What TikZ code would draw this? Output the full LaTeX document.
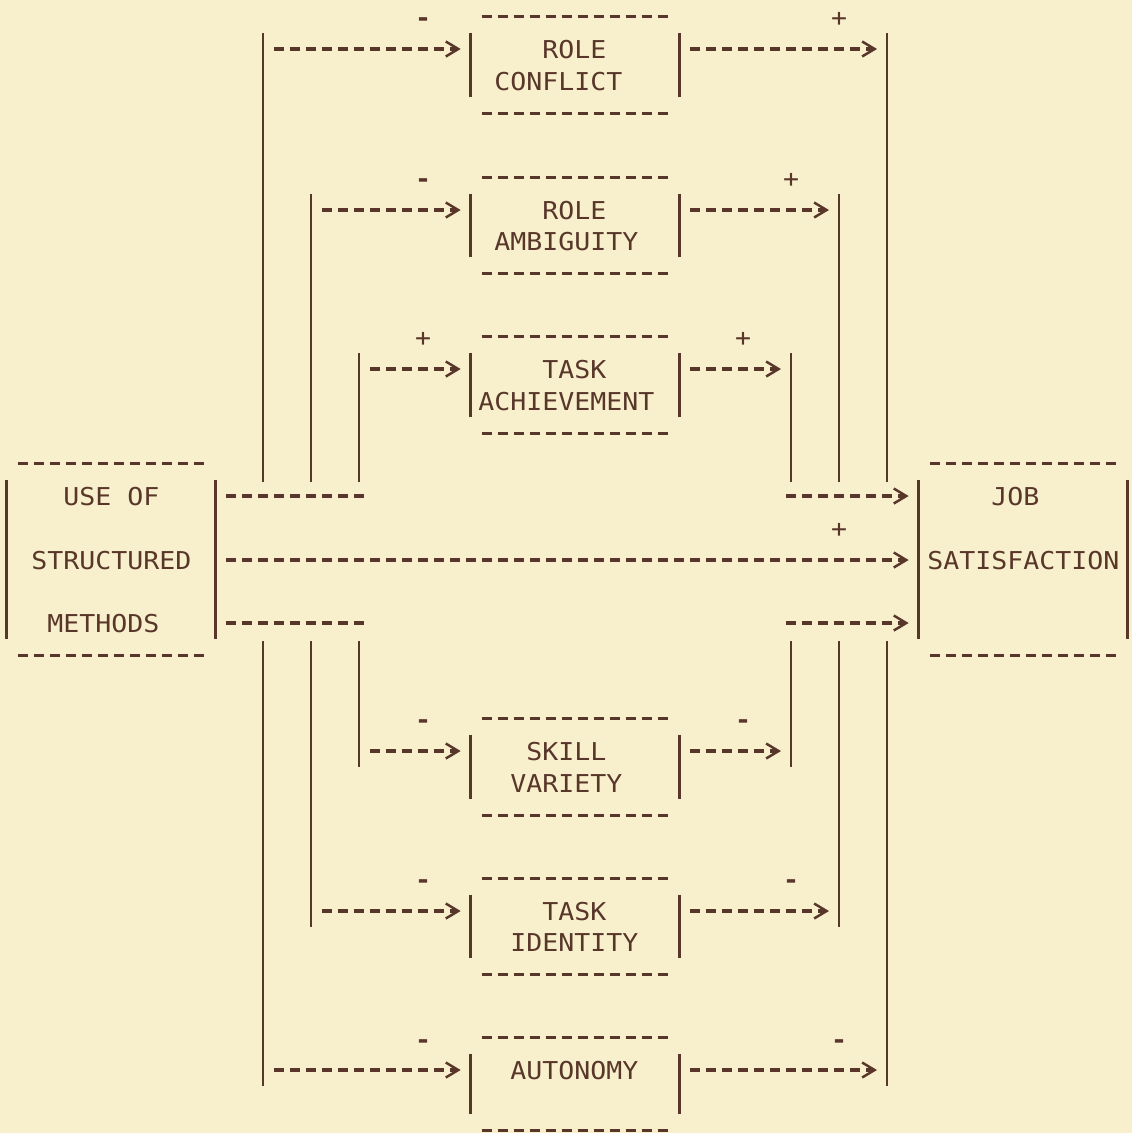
\documentclass[tikz,border=0pt]{standalone}
\usepackage{fontspec}
\newfontfamily\typew[FakeStretch=1.08]{DejaVu Sans Mono}
\usetikzlibrary{calc,arrows.meta}
\definecolor{paper}{RGB}{248,240,204}
\definecolor{ink}{RGB}{88,54,42}
\newcommand\myframeofbox[1]{%
  \draw[bar] (#1.north west) -- (#1.south west);
  \draw[bar] (#1.north east) -- (#1.south east);
  \draw[dl] ($(#1.north west)+(11,-16)$) -- ($(#1.north east)+(-11,-16)$);
  \draw[dl] ($(#1.south west)+(11,16)$) -- ($(#1.south east)+(-11,16)$);}
\begin{document}
\begin{tikzpicture}[x=0.02cm,y=-0.02cm,
  bar/.style={draw=ink,line width=1.4pt},
  dl/.style={draw=ink,line width=1.75pt,dash pattern=on 0.2cm off 0.12cm},
  conn/.style={dl,-{Straight Barb[length=0.25cm,width=0.3cm,line width=1.4pt].}},
  lbl/.style={font=\typew\fontsize{14pt}{16pt}\selectfont,text=ink,inner sep=0pt,anchor=base west},
  sgn/.style={lbl,anchor=base},
  neg/.style={sgn,font=\typew\bfseries\fontsize{14pt}{16pt}\selectfont},
  mbox/.style={rectangle,inner sep=0pt,minimum width=4.16cm}]
\fill[paper] (0,0) rectangle (1132,1133);
\useasboundingbox (0,0) rectangle (1132,1133);
% boxes
\node[mbox,minimum height=3.18cm] (usm) at (111,559.5) {};
\node[mbox,minimum height=3.18cm] (job) at (1023,559.5) {};
\node[mbox,minimum height=1.28cm] (rc) at (575,65) {};
\node[mbox,minimum height=1.26cm] (ra) at (575,225.5) {};
\node[mbox,minimum height=1.28cm] (ta) at (575,385) {};
\node[mbox,minimum height=1.28cm] (sv) at (575,767) {};
\node[mbox,minimum height=1.26cm] (ti) at (575,926.5) {};
\node[mbox,minimum height=1.2cm] (au) at (575,1084) {};
\foreach \b in {usm,job,rc,ra,ta,sv,ti,au} {\myframeofbox{\b}}
% box texts
\node[lbl] (t1) at (63,505) {USE OF};
\node[lbl] (t2) at (31,569) {STRUCTURED};
\node[lbl] (t3) at (47,632) {METHODS};
\node[lbl] (t4) at (991,505) {JOB};
\node[lbl] (t5) at (927,569) {SATISFACTION};
\node[lbl] (t6) at (542,58) {ROLE};
\node[lbl] (t7) at (494,90) {CONFLICT};
\node[lbl] (t8) at (542,219) {ROLE};
\node[lbl] (t9) at (494,250) {AMBIGUITY};
\node[lbl] (t10) at (542,378) {TASK};
\node[lbl] (t11) at (478,410) {ACHIEVEMENT};
\node[lbl] (t12) at (526,760) {SKILL};
\node[lbl] (t13) at (510,792) {VARIETY};
\node[lbl] (t14) at (542,920) {TASK};
\node[lbl] (t15) at (510,951) {IDENTITY};
\node[lbl] (t16) at (510,1079) {AUTONOMY};
% junctions
\coordinate (a1) at (263,49);   \coordinate (b1) at (887,49);
\coordinate (a6) at (311,210);  \coordinate (b6) at (839,210);
\coordinate (a11) at (359,369); \coordinate (b11) at (791,369);
\coordinate (a23) at (359,751); \coordinate (b23) at (791,751);
\coordinate (a28) at (311,911); \coordinate (b28) at (839,911);
\coordinate (a33) at (263,1070);\coordinate (b33) at (887,1070);
\coordinate (ut) at (0,482); \coordinate (lt) at (0,641);
\coordinate (y15) at (0,496); \coordinate (y17) at (0,560); \coordinate (y19) at (0,623);
% vertical trunks
\foreach \p in {a1,b1,a6,b6,a11,b11} {\draw[bar] ($(\p)+(0,-16)$) -- (\p |- ut);}
\foreach \p in {a23,b23,a28,b28,a33,b33} {\draw[bar] (\p |- lt) -- ($(\p)+(0,16)$);}
% connectors to and from the mediating boxes
\draw[conn] ($(a1)+(11,0)$) -- ($(a1 -| rc.west)+(-10,0)$);
\draw[conn] ($(a1 -| rc.east)+(11,0)$) -- ($(b1)+(-10,0)$);
\draw[conn] ($(a6)+(11,0)$) -- ($(a6 -| ra.west)+(-10,0)$);
\draw[conn] ($(a6 -| ra.east)+(11,0)$) -- ($(b6)+(-10,0)$);
\draw[conn] ($(a11)+(11,0)$) -- ($(a11 -| ta.west)+(-10,0)$);
\draw[conn] ($(a11 -| ta.east)+(11,0)$) -- ($(b11)+(-10,0)$);
\draw[conn] ($(a23)+(11,0)$) -- ($(a23 -| sv.west)+(-10,0)$);
\draw[conn] ($(a23 -| sv.east)+(11,0)$) -- ($(b23)+(-10,0)$);
\draw[conn] ($(a28)+(11,0)$) -- ($(a28 -| ti.west)+(-10,0)$);
\draw[conn] ($(a28 -| ti.east)+(11,0)$) -- ($(b28)+(-10,0)$);
\draw[conn] ($(a33)+(11,0)$) -- ($(a33 -| au.west)+(-10,0)$);
\draw[conn] ($(a33 -| au.east)+(11,0)$) -- ($(b33)+(-10,0)$);
% bundles at the main boxes
\draw[dl] ($(y15 -| usm.east)+(11,0)$) -- ($(y15 -| a11)+(5,0)$);
\draw[dl] ($(y19 -| usm.east)+(11,0)$) -- ($(y19 -| a11)+(5,0)$);
\draw[conn] ($(y15 -| b11)+(-5,0)$) -- ($(y15 -| job.west)+(-10,0)$);
\draw[conn] ($(y19 -| b11)+(-5,0)$) -- ($(y19 -| job.west)+(-10,0)$);
\draw[conn] ($(y17 -| usm.east)+(11,0)$) -- ($(y17 -| job.west)+(-10,0)$);
% signs
\node[neg] (s1) at (423,26) {-};   \node[sgn] (s2) at (839,26) {+};
\node[neg] (s3) at (423,187) {-};  \node[sgn] (s4) at (791,187) {+};
\node[sgn] (s5) at (423,346) {+};  \node[sgn] (s6) at (743,346) {+};
\node[sgn] (s7) at (839,537) {+};
\node[neg] (s8) at (423,728) {-};  \node[neg] (s9) at (743,728) {-};
\node[neg] (s10) at (423,888) {-}; \node[neg] (s11) at (791,888) {-};
\node[neg] (s12) at (423,1048) {-};\node[neg] (s13) at (839,1048) {-};
\end{tikzpicture}
\end{document}
